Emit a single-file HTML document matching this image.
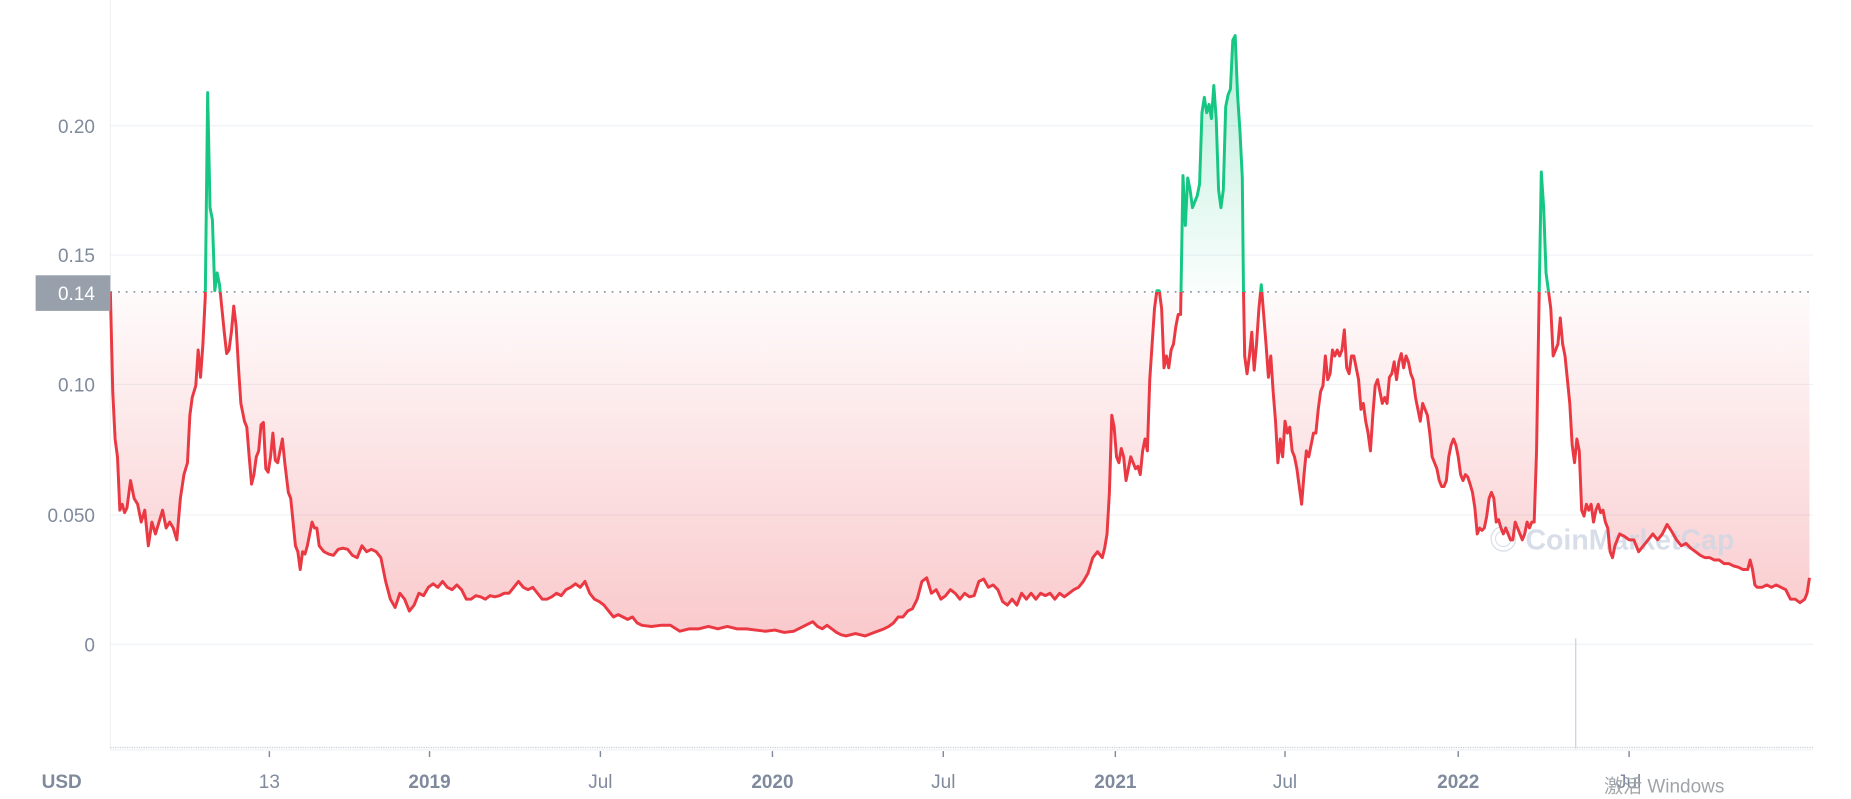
<!DOCTYPE html>
<html><head><meta charset="utf-8"><style>
html,body{margin:0;padding:0;background:#fff;}
svg{display:block;}
text{font-family:"Liberation Sans","Noto Sans CJK SC",sans-serif;}
</style></head><body>
<svg width="1851" height="799" viewBox="0 0 1560 673.4" xmlns="http://www.w3.org/2000/svg">
<defs>
<linearGradient id="rg" x1="0" y1="246" x2="0" y2="545" gradientUnits="userSpaceOnUse">
<stop offset="0" stop-color="#ea3943" stop-opacity="0.02"/>
<stop offset="1" stop-color="#ea3943" stop-opacity="0.28"/>
</linearGradient>
<linearGradient id="gg" x1="0" y1="246" x2="0" y2="30" gradientUnits="userSpaceOnUse">
<stop offset="0" stop-color="#16c784" stop-opacity="0.02"/>
<stop offset="1" stop-color="#16c784" stop-opacity="0.3"/>
</linearGradient>
<clipPath id="above"><rect x="0" y="0" width="1560" height="246"/></clipPath>
<clipPath id="below"><rect x="0" y="246" width="1560" height="500"/></clipPath>
<path id="ln" d="M93,246 L95,330 97,370 99,385 101,430 103,425 105,432 107,428 110,405 113,420 116,425 119,440 122,430 125,460 128,440 131,450 134,440 137,430 140,445 143,440 146,445 149,455 152,420 155,400 158,390 160,350 162,335 165,325 167,295 169,318 171,290 173,250 175,78 177,175 179,185 181,245 183,230 185,240 187,260 189,280 191,298 193,295 195,280 197,258 199,275 201,310 203,340 206,355 208,360 210,385 212,408 214,400 216,385 218,380 220,358 222,356 224,395 226,398 228,385 230,365 232,388 234,390 236,380 238,370 240,390 243,415 245,420 247,440 249,460 251,465 253,480 255,465 257,467 259,460 261,450 263,440 265,445 267,445 269,460 273,465 277,467 281,468 285,463 289,462 293,463 297,468 301,470 305,460 309,465 313,463 317,465 321,470 325,490 329,505 333,512 337,500 341,505 345,515 349,510 353,500 357,502 361,495 365,492 369,495 373,490 377,495 381,497 385,493 389,497 393,505 397,505 401,502 405,503 409,505 413,502 417,503 421,502 425,500 429,500 433,495 437,490 441,495 445,497 449,495 453,500 457,505 461,505 465,503 469,500 473,502 477,497 481,495 485,492 489,495 493,490 497,500 501,505 505,507 509,510 513,515 517,520 521,518 525,520 529,522 533,520 537,525 541,527 549,528 557,527 565,527 573,532 581,530 589,530 597,528 605,530 613,528 621,530 629,530 637,531 645,532 653,531 661,533 669,532 677,528 685,524 689,528 693,530 697,527 701,530 705,533 709,535 713,536 721,534 729,536 737,533 745,530 749,528 753,525 757,520 761,520 765,515 769,513 773,505 777,490 781,487 785,500 789,497 793,505 797,502 801,497 805,500 809,505 813,500 817,503 821,502 825,490 829,488 833,495 837,493 841,497 845,507 849,510 853,505 857,510 861,500 865,505 869,500 873,505 877,500 881,502 885,500 889,505 893,500 897,503 901,500 905,497 909,495 913,490 917,483 921,470 925,465 929,470 931,462 933,450 935,415 937,350 939,360 941,385 943,390 945,378 947,385 949,405 951,395 953,385 955,390 957,395 959,393 961,400 963,380 965,370 967,380 969,320 971,290 973,260 975,245 977,245 979,260 981,310 983,300 985,310 987,295 989,290 991,275 993,265 995,265 997,148 999,190 1001,150 1003,160 1005,175 1007,170 1009,165 1011,155 1013,95 1015,82 1017,95 1019,88 1021,100 1023,72 1025,100 1027,160 1029,175 1031,160 1033,90 1035,80 1037,75 1039,34 1041,30 1043,80 1045,110 1047,150 1048,245 1049,300 1051,315 1053,300 1055,280 1057,312 1059,290 1061,260 1063,240 1065,265 1067,290 1069,318 1071,300 1073,330 1075,355 1077,390 1079,370 1081,385 1083,355 1085,365 1087,360 1089,380 1091,385 1093,395 1095,410 1097,425 1099,400 1101,380 1103,385 1105,375 1107,365 1109,365 1111,345 1113,330 1115,325 1117,300 1119,320 1121,315 1123,295 1125,300 1127,295 1129,300 1131,295 1133,278 1135,310 1137,315 1139,300 1141,300 1143,310 1145,320 1147,345 1149,340 1151,355 1153,365 1155,380 1157,350 1159,325 1161,320 1163,330 1165,340 1167,335 1169,340 1171,318 1173,315 1175,305 1177,320 1179,305 1181,298 1183,310 1185,300 1187,305 1189,315 1191,320 1193,335 1195,345 1197,355 1199,340 1201,345 1203,350 1205,365 1207,385 1209,390 1211,395 1213,405 1215,410 1217,410 1219,405 1221,385 1223,375 1225,370 1227,375 1229,385 1231,400 1233,405 1235,400 1237,402 1239,408 1241,415 1243,428 1245,450 1247,445 1249,447 1251,445 1253,435 1255,420 1257,415 1259,420 1261,440 1263,438 1265,445 1267,450 1269,445 1271,450 1273,455 1275,455 1277,440 1279,445 1281,450 1283,455 1285,450 1287,440 1289,445 1291,440 1293,440 1295,380 1297,260 1299,145 1301,175 1303,230 1305,245 1307,260 1309,300 1311,295 1313,290 1315,268 1317,290 1319,300 1321,320 1323,340 1325,375 1327,390 1329,370 1331,380 1333,430 1335,435 1337,425 1339,430 1341,425 1343,440 1345,430 1347,425 1349,432 1351,430 1353,440 1355,445 1357,465 1359,470 1361,460 1365,450 1369,452 1373,455 1377,455 1381,465 1385,460 1389,455 1393,450 1397,455 1401,450 1405,442 1409,448 1413,455 1417,460 1421,458 1425,462 1429,465 1433,468 1437,470 1441,470 1445,472 1449,472 1453,475 1457,475 1461,477 1465,478 1469,480 1473,480 1475,472 1477,480 1479,493 1481,495 1485,495 1489,493 1493,495 1497,493 1501,495 1505,497 1509,505 1513,505 1517,508 1521,505 1523,500 1525,487"/>
<path id="ar" d="M93,246 L95,330 97,370 99,385 101,430 103,425 105,432 107,428 110,405 113,420 116,425 119,440 122,430 125,460 128,440 131,450 134,440 137,430 140,445 143,440 146,445 149,455 152,420 155,400 158,390 160,350 162,335 165,325 167,295 169,318 171,290 173,250 175,78 177,175 179,185 181,245 183,230 185,240 187,260 189,280 191,298 193,295 195,280 197,258 199,275 201,310 203,340 206,355 208,360 210,385 212,408 214,400 216,385 218,380 220,358 222,356 224,395 226,398 228,385 230,365 232,388 234,390 236,380 238,370 240,390 243,415 245,420 247,440 249,460 251,465 253,480 255,465 257,467 259,460 261,450 263,440 265,445 267,445 269,460 273,465 277,467 281,468 285,463 289,462 293,463 297,468 301,470 305,460 309,465 313,463 317,465 321,470 325,490 329,505 333,512 337,500 341,505 345,515 349,510 353,500 357,502 361,495 365,492 369,495 373,490 377,495 381,497 385,493 389,497 393,505 397,505 401,502 405,503 409,505 413,502 417,503 421,502 425,500 429,500 433,495 437,490 441,495 445,497 449,495 453,500 457,505 461,505 465,503 469,500 473,502 477,497 481,495 485,492 489,495 493,490 497,500 501,505 505,507 509,510 513,515 517,520 521,518 525,520 529,522 533,520 537,525 541,527 549,528 557,527 565,527 573,532 581,530 589,530 597,528 605,530 613,528 621,530 629,530 637,531 645,532 653,531 661,533 669,532 677,528 685,524 689,528 693,530 697,527 701,530 705,533 709,535 713,536 721,534 729,536 737,533 745,530 749,528 753,525 757,520 761,520 765,515 769,513 773,505 777,490 781,487 785,500 789,497 793,505 797,502 801,497 805,500 809,505 813,500 817,503 821,502 825,490 829,488 833,495 837,493 841,497 845,507 849,510 853,505 857,510 861,500 865,505 869,500 873,505 877,500 881,502 885,500 889,505 893,500 897,503 901,500 905,497 909,495 913,490 917,483 921,470 925,465 929,470 931,462 933,450 935,415 937,350 939,360 941,385 943,390 945,378 947,385 949,405 951,395 953,385 955,390 957,395 959,393 961,400 963,380 965,370 967,380 969,320 971,290 973,260 975,245 977,245 979,260 981,310 983,300 985,310 987,295 989,290 991,275 993,265 995,265 997,148 999,190 1001,150 1003,160 1005,175 1007,170 1009,165 1011,155 1013,95 1015,82 1017,95 1019,88 1021,100 1023,72 1025,100 1027,160 1029,175 1031,160 1033,90 1035,80 1037,75 1039,34 1041,30 1043,80 1045,110 1047,150 1048,245 1049,300 1051,315 1053,300 1055,280 1057,312 1059,290 1061,260 1063,240 1065,265 1067,290 1069,318 1071,300 1073,330 1075,355 1077,390 1079,370 1081,385 1083,355 1085,365 1087,360 1089,380 1091,385 1093,395 1095,410 1097,425 1099,400 1101,380 1103,385 1105,375 1107,365 1109,365 1111,345 1113,330 1115,325 1117,300 1119,320 1121,315 1123,295 1125,300 1127,295 1129,300 1131,295 1133,278 1135,310 1137,315 1139,300 1141,300 1143,310 1145,320 1147,345 1149,340 1151,355 1153,365 1155,380 1157,350 1159,325 1161,320 1163,330 1165,340 1167,335 1169,340 1171,318 1173,315 1175,305 1177,320 1179,305 1181,298 1183,310 1185,300 1187,305 1189,315 1191,320 1193,335 1195,345 1197,355 1199,340 1201,345 1203,350 1205,365 1207,385 1209,390 1211,395 1213,405 1215,410 1217,410 1219,405 1221,385 1223,375 1225,370 1227,375 1229,385 1231,400 1233,405 1235,400 1237,402 1239,408 1241,415 1243,428 1245,450 1247,445 1249,447 1251,445 1253,435 1255,420 1257,415 1259,420 1261,440 1263,438 1265,445 1267,450 1269,445 1271,450 1273,455 1275,455 1277,440 1279,445 1281,450 1283,455 1285,450 1287,440 1289,445 1291,440 1293,440 1295,380 1297,260 1299,145 1301,175 1303,230 1305,245 1307,260 1309,300 1311,295 1313,290 1315,268 1317,290 1319,300 1321,320 1323,340 1325,375 1327,390 1329,370 1331,380 1333,430 1335,435 1337,425 1339,430 1341,425 1343,440 1345,430 1347,425 1349,432 1351,430 1353,440 1355,445 1357,465 1359,470 1361,460 1365,450 1369,452 1373,455 1377,455 1381,465 1385,460 1389,455 1393,450 1397,455 1401,450 1405,442 1409,448 1413,455 1417,460 1421,458 1425,462 1429,465 1433,468 1437,470 1441,470 1445,472 1449,472 1453,475 1457,475 1461,477 1465,478 1469,480 1473,480 1475,472 1477,480 1479,493 1481,495 1485,495 1489,493 1493,495 1497,493 1501,495 1505,497 1509,505 1513,505 1517,508 1521,505 1523,500 1525,487 L1525,246 Z"/>
</defs>
<g stroke="#eff2f5" stroke-width="1">
<line x1="93" y1="106" x2="1528" y2="106"/>
<line x1="93" y1="215" x2="1528" y2="215"/>
<line x1="93" y1="324" x2="1528" y2="324"/>
<line x1="93" y1="434" x2="1528" y2="434"/>
<line x1="93" y1="543" x2="1528" y2="543"/>
<line x1="93" y1="0" x2="93" y2="632"/>
<line x1="93" y1="632" x2="1528" y2="632"/>
</g>
<line x1="93" y1="630" x2="1528" y2="630" stroke="#c8cdd4" stroke-width="1" stroke-dasharray="1 1"/>
<g fill="#808a9d" font-size="16" text-anchor="end">
<text x="80" y="112">0.20</text>
<text x="80" y="221">0.15</text>
<text x="80" y="330">0.10</text>
<text x="80" y="440">0.050</text>
<text x="80" y="549">0</text>
</g>
<g clip-path="url(#below)"><use href="#ar" fill="url(#rg)" stroke="none"/></g>
<g clip-path="url(#above)"><use href="#ar" fill="url(#gg)" stroke="none"/></g>
<text x="1255" y="463" font-size="24" font-weight="bold" fill="#cfd6e4" opacity="0.8">◎ CoinMarketCap</text>
<line x1="93" y1="246" x2="1528" y2="246" stroke="#808a9d" stroke-width="1.3" stroke-dasharray="1.5 5"/>
<g clip-path="url(#below)"><use href="#ln" fill="none" stroke="#ea3943" stroke-width="2.5" stroke-linejoin="round"/></g>
<g clip-path="url(#above)"><use href="#ln" fill="none" stroke="#16c784" stroke-width="2.5" stroke-linejoin="round"/></g>
<line x1="1328" y1="538" x2="1328" y2="631" stroke="#c8d0e0" stroke-width="1"/>
<rect x="30" y="232" width="63" height="30" fill="#98a0ab"/>
<text x="80" y="253" font-size="16" fill="#fff" text-anchor="end">0.14</text>
<g stroke="#808a9d" stroke-width="1.2">
<line x1="227" y1="633" x2="227" y2="638"/><line x1="362" y1="633" x2="362" y2="638"/>
<line x1="506" y1="633" x2="506" y2="638"/><line x1="651" y1="633" x2="651" y2="638"/>
<line x1="795" y1="633" x2="795" y2="638"/><line x1="940" y1="633" x2="940" y2="638"/>
<line x1="1083" y1="633" x2="1083" y2="638"/><line x1="1229" y1="633" x2="1229" y2="638"/>
<line x1="1373" y1="633" x2="1373" y2="638"/>
</g>
<g fill="#808a9d" font-size="16" text-anchor="middle">
<text x="52" y="664" font-weight="bold">USD</text>
<text x="227" y="664">13</text>
<text x="362" y="664" font-weight="bold">2019</text>
<text x="506" y="664">Jul</text>
<text x="651" y="664" font-weight="bold">2020</text>
<text x="795" y="664">Jul</text>
<text x="940" y="664" font-weight="bold">2021</text>
<text x="1083" y="664">Jul</text>
<text x="1229" y="664" font-weight="bold">2022</text>
<text x="1373" y="664">Jul</text>
</g>
<text x="1352" y="668" font-size="16" fill="#a0a4a8">激活 Windows</text>
</svg>
</body></html>
